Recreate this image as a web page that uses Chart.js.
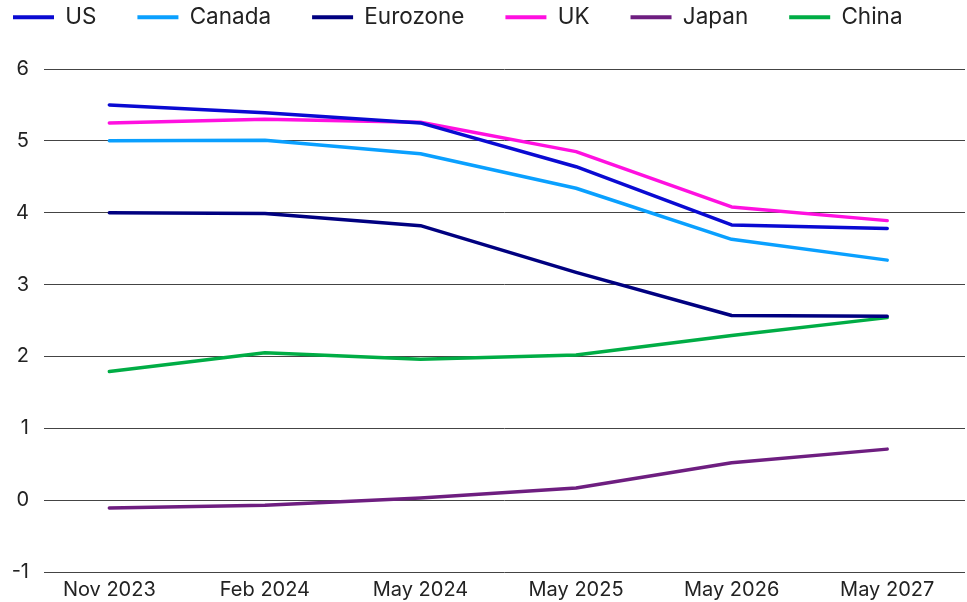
<!DOCTYPE html>
<html>
<head>
<meta charset="utf-8">
<script src="https://cdn.jsdelivr.net/npm/chart.js@4.4.1/dist/chart.umd.min.js"></script>
<style>
  html, body { margin: 0; padding: 0; background: #ffffff; }
  #wrap { width: 967px; height: 602px; position: relative; }
</style>
</head>
<body>
<div id="wrap"><canvas id="c"></canvas></div>
<script>
const categories = ['Nov 2023', 'Feb 2024', 'May 2024', 'May 2025', 'May 2026', 'May 2027'];
const yTicks = [-1, 0, 1, 2, 3, 4, 5, 6];

const us       = [5.50, 5.39, 5.25, 4.64, 3.83, 3.78];
const canada   = [5.00, 5.01, 4.82, 4.34, 3.63, 3.34];
const eurozone = [4.00, 3.99, 3.82, 3.17, 2.57, 2.56];
const uk       = [5.25, 5.30, 5.26, 4.85, 4.08, 3.89];
const japan    = [-0.11, -0.07, 0.03, 0.17, 0.52, 0.71];
const china    = [1.79, 2.05, 1.96, 2.02, 2.29, 2.54];

const seriesNames = ['US', 'Canada', 'Eurozone', 'UK', 'Japan', 'China'];
const seriesValues = [us, canada, eurozone, uk, japan, china];
const seriesColors = ['#0a0ad2', '#0aa0ff', '#000080', '#ff10e0', '#6e1e80', '#00ad45'];

const FONT = 'Inter, "Noto Sans", Roboto, sans-serif';
const TEXT = '#222222';

const datasets = seriesNames.map((name, k) => ({
  label: name,
  data: seriesValues[k].map((v, i) => ({ x: i, y: v })),
  xAxisID: 'x',
  yAxisID: 'y',
  borderColor: seriesColors[k],
  backgroundColor: seriesColors[k],
  borderWidth: 3.5,
  pointRadius: 0,
  pointHoverRadius: 0,
  tension: 0,
  fill: false,
  borderCapStyle: 'round',
  borderJoinStyle: 'round'
}));

new Chart(document.getElementById('c'), {
  type: 'line',
  data: { datasets },
  options: {
    responsive: true,
    maintainAspectRatio: false,
    animation: false,
    events: [],
    layout: { padding: { top: -35, left: -28, right: 2, bottom: -6 } },
    plugins: {
      tooltip: { enabled: false },
      legend: {
        display: true,
        position: 'top',
        align: 'start',
        labels: {
          boxWidth: 41,
          boxHeight: 4,
          padding: 41,
          color: TEXT,
          font: { family: FONT, size: 22.5 },
          generateLabels: (chart) =>
            Chart.defaults.plugins.legend.labels.generateLabels(chart)
              .map(l => Object.assign(l, { lineWidth: 0 }))
        }
      }
    },
    scales: {
      x: {
        type: 'linear',
        min: -0.42,
        max: 5.5,
        afterBuildTicks: (s) => { s.ticks = categories.map((c, i) => ({ value: i })); },
        grid: { display: false, drawTicks: false },
        border: { display: false },
        ticks: {
          autoSkip: false,
          maxRotation: 0,
          padding: 6,
          color: TEXT,
          font: { family: FONT, size: 20 },
          callback: (v) => categories[v] !== undefined ? categories[v] : ''
        }
      },
      xTopSpace: {
        type: 'linear',
        axis: 'x',
        position: 'top',
        display: true,
        grid: { display: false, drawTicks: false },
        border: { display: false },
        ticks: { display: false },
        afterFit: (s) => { s.height = 30.5; }
      },
      y: {
        type: 'linear',
        min: yTicks[0],
        max: yTicks[yTicks.length - 1],
        afterBuildTicks: (s) => { s.ticks = yTicks.map(v => ({ value: v })); },
        afterFit: (s) => { s.width = 72; },
        grid: { color: '#444444', lineWidth: 1, drawTicks: false },
        border: { display: false },
        ticks: {
          padding: 15,
          color: TEXT,
          font: { family: FONT, size: 20 }
        }
      }
    }
  }
});
</script>
</body>
</html>
